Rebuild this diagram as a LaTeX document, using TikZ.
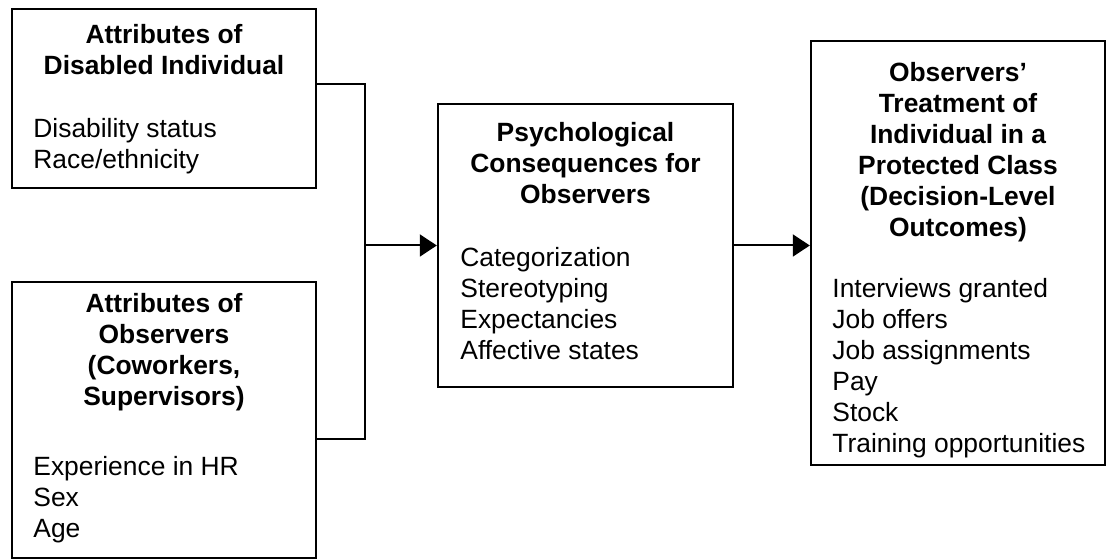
\documentclass[tikz,border=0pt]{standalone}
\usepackage{fontspec}
\setmainfont{Liberation Sans}
\usetikzlibrary{arrows.meta}
\begin{document}
\begin{tikzpicture}[x=0.5pt,y=-0.5pt,
  box/.style={draw, line width=1.2pt, inner sep=0pt, rectangle},
  title/.style={anchor=base, inner sep=0pt, font=\fontsize{13.2}{15.5}\selectfont\bfseries},
  body/.style={anchor=base west, inner sep=0pt, font=\fontsize{13.2}{15.5}\selectfont},
  link/.style={line width=1pt},
  arr/.style={line width=1pt, -{Triangle[length=8.5pt,width=11pt]}}]
\useasboundingbox (0,0) rectangle (1107,560);

% boxes
\node[box, minimum width=152pt, minimum height=89.5pt] (b1) at (164,98.5) {};
\node[box, minimum width=152pt, minimum height=138pt] (b2) at (164,420) {};
\node[box, minimum width=147.5pt, minimum height=141.5pt] (b3) at (585.5,245.5) {};
\node[box, minimum width=147pt, minimum height=212pt] (b4) at (958,253) {};

% box texts
\node[title] (t1) at (164,44) {\parbox[t]{150pt}{\centering Attributes of\\Disabled Individual}};
\node[body] (l1) at (33,138) {\parbox[t]{140pt}{Disability status\\Race/ethnicity}};

\node[title] (t2) at (164,313) {\parbox[t]{150pt}{\centering Attributes of\\Observers\\(Coworkers,\\Supervisors)}};
\node[body] (l2) at (33,475) {\parbox[t]{140pt}{Experience in HR\\Sex\\Age}};

\node[title] (t3) at (585.5,142) {\parbox[t]{145pt}{\centering Psychological\\Consequences for\\Observers}};
\node[body] (l3) at (460,267) {\parbox[t]{135pt}{Categorization\\Stereotyping\\Expectancies\\Affective states}};

\node[title] (t4) at (958,82) {\parbox[t]{145pt}{\centering Observers’\\Treatment of\\Individual in a\\Protected Class\\(Decision-Level\\Outcomes)}};
\node[body] (l4) at (832,298) {\parbox[t]{140pt}{Interviews granted\\Job offers\\Job assignments\\Pay\\Stock\\Training opportunities}};

% connectors
\coordinate (c1) at (365,84);
\coordinate (c2) at (365,439);
\coordinate (j) at (365,245.5);
\draw[link] (c1 -| b1.east) -- (c1) -- (c2) -- (c2 -| b2.east);
\draw[arr] (j) -- (b3.west);
\draw[arr] (b3.east) -- (b3.east -| b4.west);
\end{tikzpicture}
\end{document}
